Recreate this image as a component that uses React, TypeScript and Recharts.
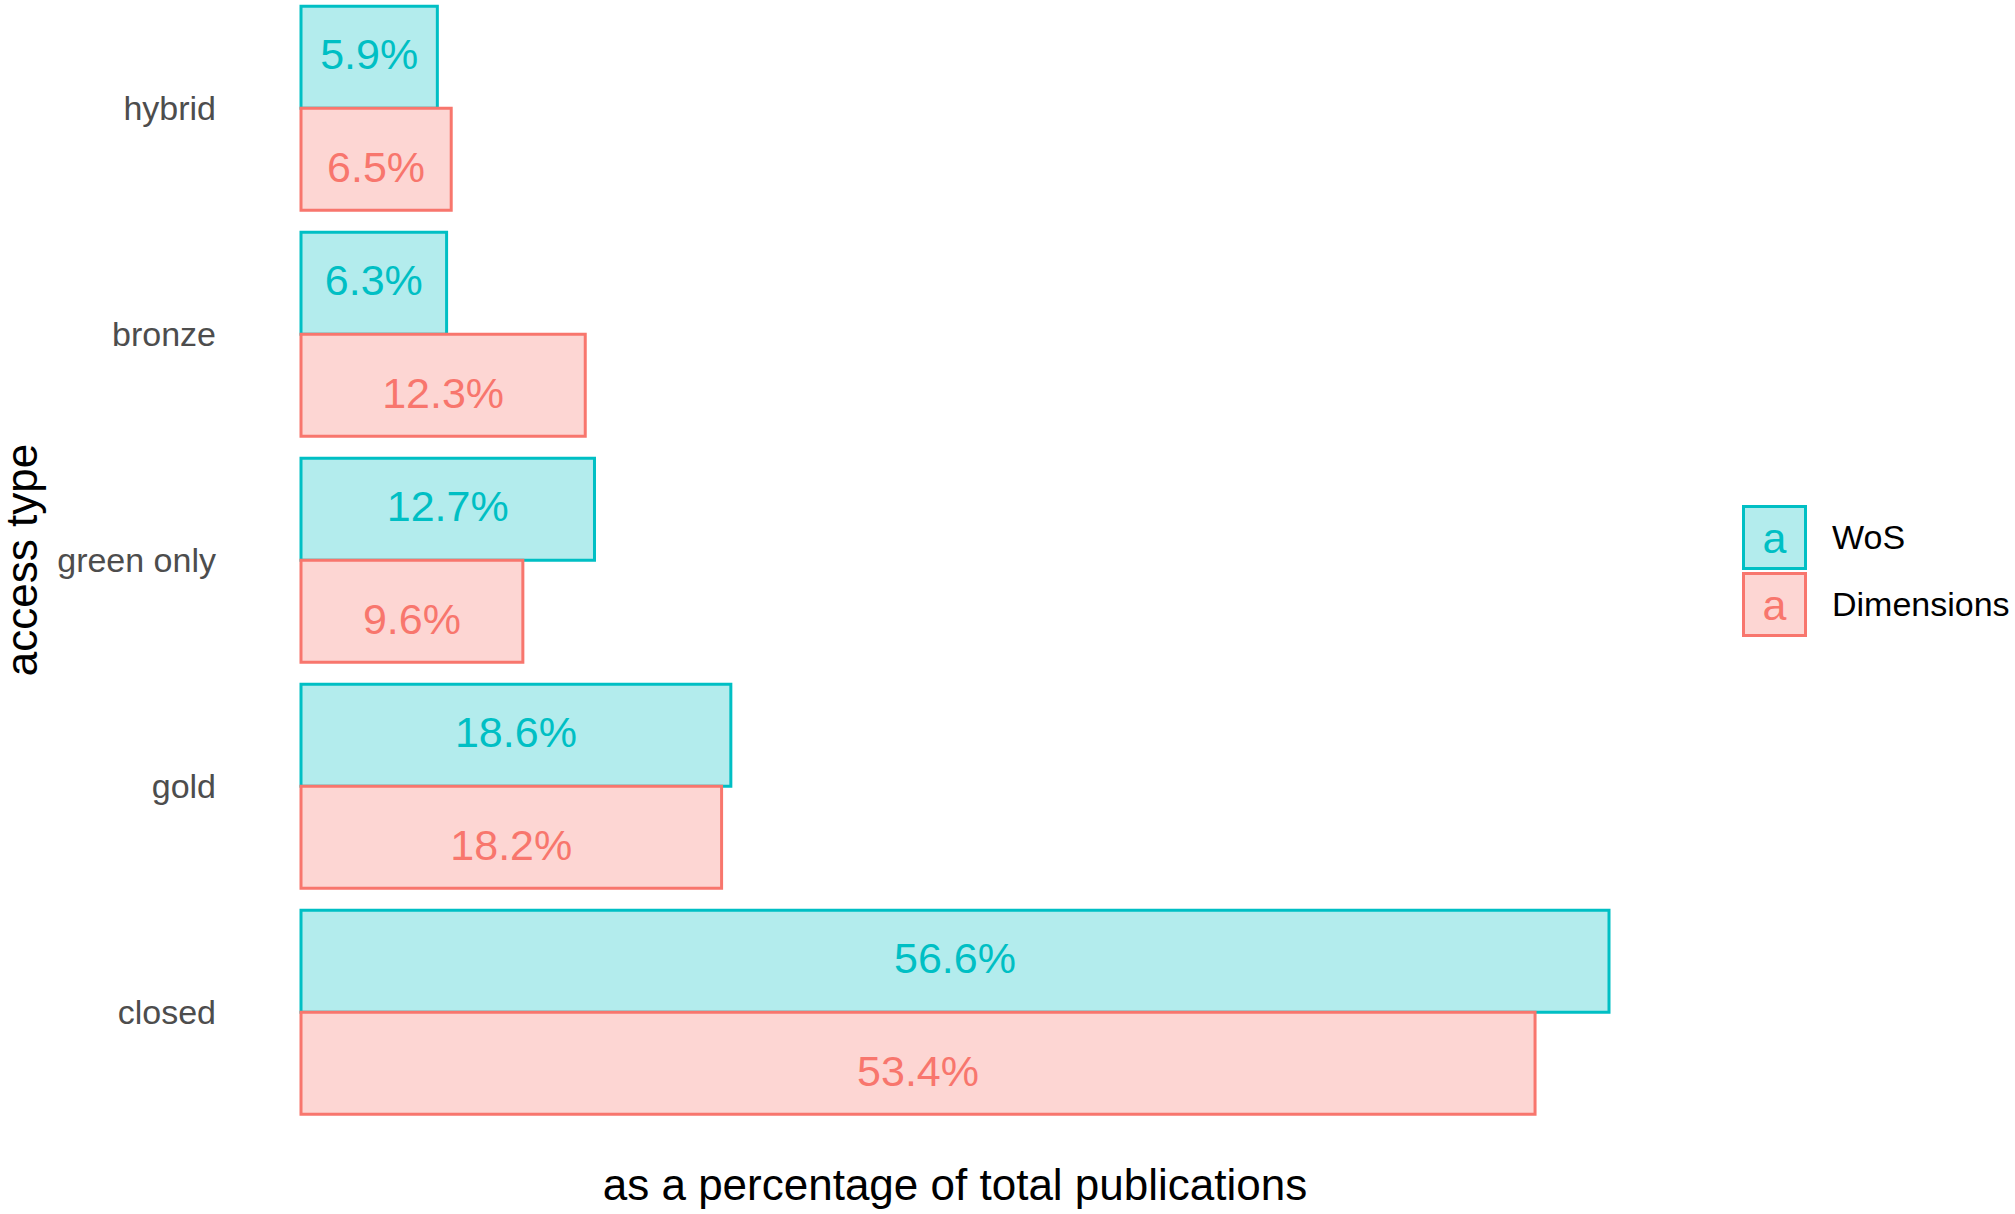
import { BarChart, Bar, XAxis, YAxis, LabelList, Legend } from 'recharts'

const accessTypes = ['hybrid', 'bronze', 'green only', 'gold', 'closed']
const wosShare = [5.9, 6.3, 12.7, 18.6, 56.6]
const dimensionsShare = [6.5, 12.3, 9.6, 18.2, 53.4]

const series = [
    { key: 'wos', name: 'WoS', stroke: '#00BFC4', fill: '#B3ECED', labelShift: -4 },
    { key: 'dimensions', name: 'Dimensions', stroke: '#F8766D', fill: '#FDD6D3', labelShift: 7 },
]

const FONT = '"Liberation Sans", Arial, sans-serif'

const data = accessTypes.map((type, i) => ({
    type,
    wos: wosShare[i],
    dimensions: dimensionsShare[i],
}))

const pct = (v: number) => `${Number(v).toFixed(1)}%`

const LegendBox = () => (
    <div style={{ fontFamily: FONT }}>
        {series.map((s) => (
            <div key={s.key} style={{ display: 'flex', alignItems: 'center', height: 67 }}>
                <svg width={65} height={65}>
                    <rect x={1.5} y={1.5} width={62} height={62} fill={s.fill} stroke={s.stroke} strokeWidth={3} />
                    <text x={32.5} y={32.5} dy="0.36em" textAnchor="middle" fontSize={43} fill={s.stroke} fontFamily={FONT}>
                        a
                    </text>
                </svg>
                <span style={{ marginLeft: 25, fontSize: 34, color: '#000' }}>{s.name}</span>
            </div>
        ))}
    </div>
)

export default function App() {
    return (
        <div style={{ position: 'absolute', left: 0, top: -5 }}>
            <BarChart
                width={2015}
                height={1219}
                data={data}
                layout="vertical"
                margin={{ top: 0, right: 406, bottom: 0, left: 0 }}
                barCategoryGap="5%"
                barGap={0}
            >
                <XAxis
                    type="number"
                    domain={[0, 'dataMax']}
                    height={89}
                    axisLine={false}
                    tickLine={false}
                    tick={false}
                    label={{
                        content: (props: any) => {
                            const vb = props.viewBox
                            return (
                                <text x={vb.x + vb.width / 2} y={vb.y + 75} textAnchor="middle" fontSize={44} fill="#000" fontFamily={FONT}>
                                    as a percentage of total publications
                                </text>
                            )
                        },
                    }}
                />
                <YAxis
                    type="category"
                    dataKey="type"
                    width={301}
                    axisLine={false}
                    tickLine={false}
                    tickSize={0}
                    tickMargin={85}
                    tick={{ fill: '#4D4D4D', fontSize: 34, fontFamily: FONT }}
                    label={{
                        content: (props: any) => {
                            const vb = props.viewBox
                            const cx = vb.x + 37
                            const cy = vb.y + vb.height / 2
                            return (
                                <text x={cx} y={cy} transform={`rotate(-90, ${cx}, ${cy})`} textAnchor="middle" fontSize={44} fill="#000" fontFamily={FONT}>
                                    access type
                                </text>
                            )
                        },
                    }}
                />
                <Legend
                    layout="horizontal"
                    verticalAlign="middle"
                    align="center"
                    width={270}
                    wrapperStyle={{ left: 1742, top: 509 }}
                    content={<LegendBox />}
                />
                {series.map((s) => (
                    <Bar
                        key={s.key}
                        dataKey={s.key}
                        name={s.name}
                        fill={s.fill}
                        stroke={s.stroke}
                        strokeWidth={3}
                        isAnimationActive={false}
                    >
                        <LabelList
                            dataKey={s.key}
                            position="center"
                            formatter={pct as any}
                            fill={s.stroke}
                            fontSize={43}
                            fontFamily={FONT}
                            dy={s.labelShift}
                        />
                    </Bar>
                ))}
            </BarChart>
        </div>
    )
}
